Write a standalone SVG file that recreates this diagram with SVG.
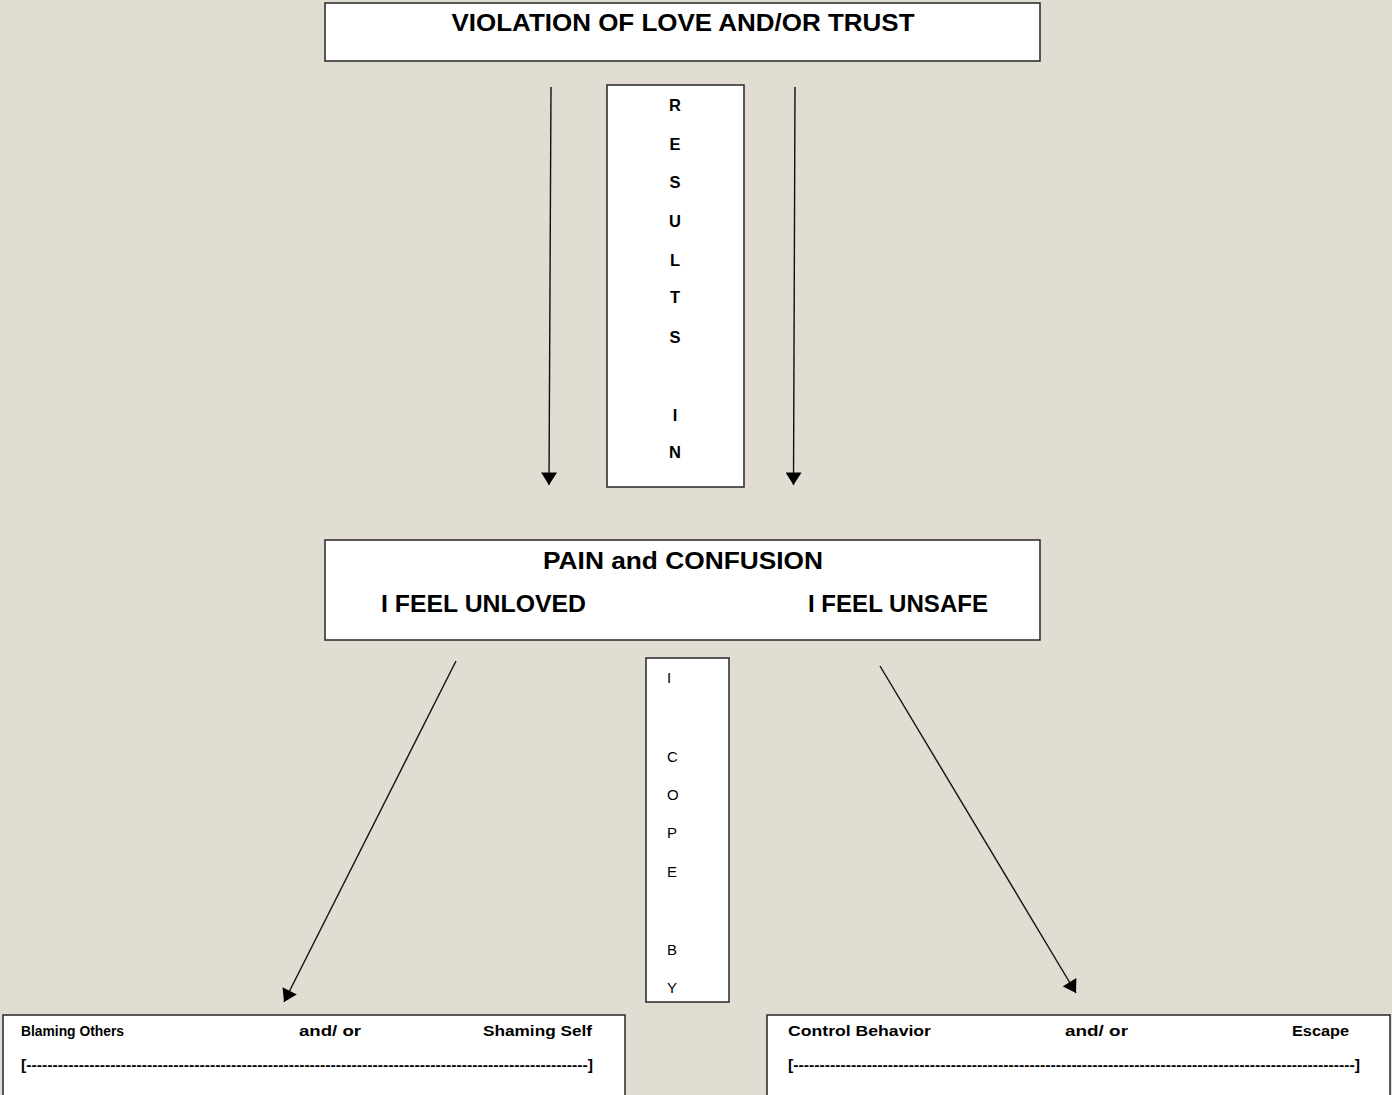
<svg xmlns="http://www.w3.org/2000/svg" width="1392" height="1095" viewBox="0 0 1392 1095">
<style>
.box{fill:#ffffff;stroke:#262626;stroke-width:1.5}
.t{font-family:"Liberation Sans",Arial,sans-serif;font-weight:bold;fill:#000}
.h{font-size:23px}
.v{font-size:16.5px;text-anchor:middle}
.r{font-family:"Liberation Sans",Arial,sans-serif;font-size:15px;fill:#000}
.s{font-size:14px}
.ln{stroke:#111;stroke-width:1.4;fill:none}
</style>
<defs>
<marker id="ah" markerUnits="userSpaceOnUse" markerWidth="14" markerHeight="16" viewBox="0 0 11 14" refX="11" refY="7" orient="auto">
<path d="M0,0 L11,7 L0,14 Z" fill="#000"/>
</marker>
</defs>
<rect width="1392" height="1095" fill="#e2ddd3"/>

<g id="node-violation">
<rect class="box" x="325" y="3" width="715" height="58"/>
<text class="t h" x="683" y="31" text-anchor="middle" textLength="463" lengthAdjust="spacingAndGlyphs">VIOLATION OF LOVE AND/OR TRUST</text>
</g>

<g id="node-results-in">
<rect class="box" x="607" y="85" width="137" height="402"/>
<text class="t v" x="675" y="111">R</text>
<text class="t v" x="675" y="150">E</text>
<text class="t v" x="675" y="188">S</text>
<text class="t v" x="675" y="227">U</text>
<text class="t v" x="675" y="266">L</text>
<text class="t v" x="675" y="303">T</text>
<text class="t v" x="675" y="343">S</text>
<text class="t v" x="675" y="421">I</text>
<text class="t v" x="675" y="458">N</text>
</g>

<g id="node-pain">
<rect class="box" x="325" y="540" width="715" height="100"/>
<text class="t h" x="683" y="569" text-anchor="middle" textLength="280" lengthAdjust="spacingAndGlyphs">PAIN and CONFUSION</text>
<text class="t h" x="381" y="612" textLength="205" lengthAdjust="spacingAndGlyphs">I FEEL UNLOVED</text>
<text class="t h" x="808" y="612" textLength="180" lengthAdjust="spacingAndGlyphs">I FEEL UNSAFE</text>
</g>

<g id="node-i-cope-by">
<rect class="box" x="646" y="658" width="83" height="344"/>
<text class="r" x="667" y="683">I</text>
<text class="r" x="667" y="762">C</text>
<text class="r" x="667" y="800">O</text>
<text class="r" x="667" y="838">P</text>
<text class="r" x="667" y="877">E</text>
<text class="r" x="667" y="955">B</text>
<text class="r" x="667" y="993">Y</text>
</g>

<g id="node-blaming">
<rect class="box" x="3" y="1015" width="622" height="90"/>
<text class="t s" x="21" y="1036" textLength="103" lengthAdjust="spacingAndGlyphs">Blaming Others</text>
<text class="t s" x="299" y="1036" textLength="62" lengthAdjust="spacingAndGlyphs">and/ or</text>
<text class="t s" x="483" y="1036" textLength="109" lengthAdjust="spacingAndGlyphs">Shaming Self</text>
<text class="t s" x="21" y="1070" textLength="572" lengthAdjust="spacingAndGlyphs">[-----------------------------------------------------------------------------------------------------------]</text>
</g>

<g id="node-control">
<rect class="box" x="767" y="1015" width="623" height="90"/>
<text class="t s" x="788" y="1036" textLength="143" lengthAdjust="spacingAndGlyphs">Control Behavior</text>
<text class="t s" x="1065" y="1036" textLength="63" lengthAdjust="spacingAndGlyphs">and/ or</text>
<text class="t s" x="1292" y="1036" textLength="57" lengthAdjust="spacingAndGlyphs">Escape</text>
<text class="t s" x="788" y="1070" textLength="572" lengthAdjust="spacingAndGlyphs">[-----------------------------------------------------------------------------------------------------------]</text>
</g>

<g id="connectors">
<line class="ln" x1="551" y1="87" x2="549" y2="485" marker-end="url(#ah)"/>
<line class="ln" x1="795" y1="87" x2="793.5" y2="485" marker-end="url(#ah)"/>
<line class="ln" x1="456" y1="661" x2="284" y2="1002" marker-end="url(#ah)"/>
<line class="ln" x1="880" y1="666" x2="1076" y2="993" marker-end="url(#ah)"/>
</g>
</svg>
